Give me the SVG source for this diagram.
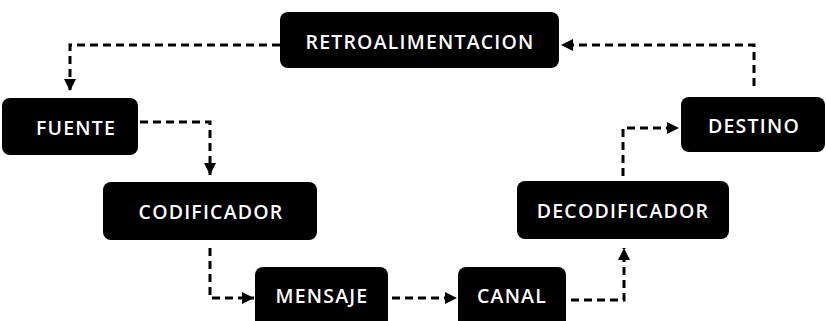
<svg xmlns="http://www.w3.org/2000/svg" width="826" height="321" viewBox="0 0 826 321">
<style>
.box{fill:#000;}
.lbl{fill:#fff;font-family:"Open Sans","DejaVu Sans",sans-serif;font-weight:600;font-size:19.5px;letter-spacing:1.2px;text-anchor:middle;dominant-baseline:central;}
.con{fill:none;stroke:#000;stroke-width:3;stroke-dasharray:8 5;}
</style>
<defs>
<marker id="ah" markerUnits="userSpaceOnUse" markerWidth="13" markerHeight="13" refX="12" refY="6.5" orient="auto">
<path d="M0,0.5 L12,6.5 L0,12.5 z" fill="#000"/>
</marker>
</defs>
<rect width="826" height="321" fill="#fff"/>
<g id="connectors">
<path class="con" d="M280,45 H70 V91" marker-end="url(#ah)"/>
<path class="con" d="M140,122 H210 V175" marker-end="url(#ah)"/>
<path class="con" d="M210,248 V298 H254" marker-end="url(#ah)"/>
<path class="con" d="M392,298 H457" marker-end="url(#ah)"/>
<path class="con" d="M571,300 H624 V248" marker-end="url(#ah)"/>
<path class="con" d="M623,176 V128 H679" marker-end="url(#ah)"/>
<path class="con" d="M754,86 V45 H561" marker-end="url(#ah)"/>
</g>
<g id="retroalimentacion"><rect class="box" x="280" y="12" width="279" height="56" rx="8"/><text class="lbl" x="420" y="41">RETROALIMENTACION</text></g>
<g id="fuente"><rect class="box" x="2" y="98" width="136" height="57" rx="8"/><text class="lbl" x="76" y="127">FUENTE</text></g>
<g id="codificador"><rect class="box" x="103" y="182" width="214" height="58" rx="8"/><text class="lbl" x="211" y="211">CODIFICADOR</text></g>
<g id="mensaje"><rect class="box" x="255" y="267" width="133" height="64" rx="8"/><text class="lbl" x="322" y="295">MENSAJE</text></g>
<g id="canal"><rect class="box" x="458" y="267" width="108" height="64" rx="8"/><text class="lbl" x="512" y="295">CANAL</text></g>
<g id="decodificador"><rect class="box" x="517" y="181" width="212" height="58" rx="8"/><text class="lbl" x="623" y="210">DECODIFICADOR</text></g>
<g id="destino"><rect class="box" x="681" y="97" width="144" height="55" rx="8"/><text class="lbl" x="754" y="125">DESTINO</text></g>
</svg>
